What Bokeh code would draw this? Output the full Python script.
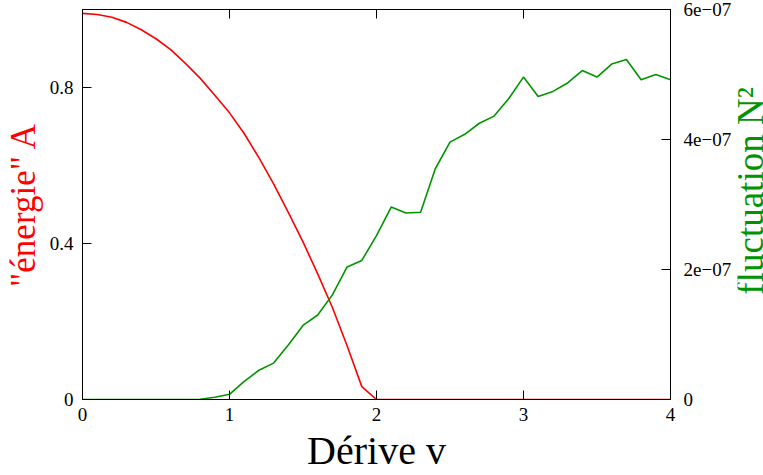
import math

from bokeh.embed import file_html
from bokeh.layouts import row
from bokeh.models import FixedTicker, Label, LinearAxis, Range1d
from bokeh.plotting import figure
from bokeh.resources import INLINE

# drift values v
derive_v = [0.0, 0.1, 0.2, 0.3, 0.4, 0.5, 0.6, 0.7, 0.8, 0.9,
            1.0, 1.1, 1.2, 1.3, 1.4, 1.5, 1.6, 1.7, 1.8, 1.9,
            2.0, 2.1, 2.2, 2.3, 2.4, 2.5, 2.6, 2.7, 2.8, 2.9,
            3.0, 3.1, 3.2, 3.3, 3.4, 3.5, 3.6, 3.7, 3.8, 3.9, 4.0]

# "energy" A (left axis)
energie_A = [0.990, 0.987, 0.980, 0.967, 0.948, 0.925, 0.897, 0.862, 0.824, 0.780,
             0.735, 0.682, 0.620, 0.553, 0.480, 0.404, 0.322, 0.236, 0.138, 0.033,
             0.0, 0.0, 0.0, 0.0, 0.0, 0.0, 0.0, 0.0, 0.0, 0.0,
             0.0, 0.0, 0.0, 0.0, 0.0, 0.0, 0.0, 0.0, 0.0, 0.0, 0.0]

# fluctuation N^2 (right axis)
fluctuation_N2 = [0.0, 0.0, 0.0, 0.0, 0.0, 0.0, 0.0, 0.0, 0.005e-07, 0.035e-07,
                  0.08e-07, 0.28e-07, 0.45e-07, 0.56e-07, 0.84e-07, 1.14e-07, 1.30e-07, 1.61e-07, 2.04e-07, 2.14e-07,
                  2.52e-07, 2.96e-07, 2.87e-07, 2.88e-07, 3.55e-07, 3.96e-07, 4.08e-07, 4.25e-07, 4.36e-07, 4.63e-07,
                  4.96e-07, 4.66e-07, 4.74e-07, 4.87e-07, 5.06e-07, 4.96e-07, 5.16e-07, 5.23e-07, 4.92e-07, 5.00e-07, 4.92e-07]

x_ticks = [0, 1, 2, 3, 4]
y_ticks = [0, 0.4, 0.8]
y2_ticks = [0.0, 2e-07, 4e-07, 6e-07]
y2_tick_labels = ["0", "2e\u221207", "4e\u221207", "6e\u221207"]

FONT = "Liberation Serif"
RED = "#ff0000"
GREEN = "#009400"

p = figure(width=737, height=475, output_backend="svg", toolbar_location=None,
           x_range=Range1d(0, 4), y_range=Range1d(0, 1),
           min_border_left=82, min_border_right=67, min_border_top=9, min_border_bottom=76,
           background_fill_color="white", border_fill_color="white")
p.extra_y_ranges = {"n2": Range1d(0, 6e-07)}
p.grid.visible = False
p.outline_line_color = "black"
p.outline_line_width = 1


def style_axis(ax, size="19px"):
    ax.major_tick_in = 9
    ax.major_tick_out = 0
    ax.minor_tick_in = 0
    ax.minor_tick_out = 0
    ax.axis_line_color = "black"
    ax.major_tick_line_color = "black"
    ax.major_label_text_font = FONT
    ax.major_label_text_font_size = size
    ax.major_label_text_color = "black"
    ax.axis_label_text_font = FONT
    ax.axis_label_text_font_style = "normal"


xa = p.xaxis[0]
xa.ticker = FixedTicker(ticks=x_ticks)
style_axis(xa)
xa.major_label_standoff = 8
xa.axis_label = "Dérive v"
xa.axis_label_text_font_size = "40px"
xa.axis_label_text_color = "black"
xa.axis_label_standoff = 4

ya = p.yaxis[0]
ya.ticker = FixedTicker(ticks=y_ticks)
style_axis(ya)
ya.major_label_standoff = 9
ya.axis_label = '"énergie" A'
ya.axis_label_text_font_size = "35px"
ya.axis_label_text_color = RED
ya.axis_label_standoff = 4

# mirrored ticks along the top edge
top = LinearAxis(ticker=FixedTicker(ticks=x_ticks))
style_axis(top, size="0px")
top.major_label_standoff = 0
top.major_label_text_alpha = 0
p.add_layout(top, "above")

# right axis for N^2
ra = LinearAxis(y_range_name="n2", ticker=FixedTicker(ticks=y2_ticks),
                major_label_overrides=dict(zip(y2_ticks, y2_tick_labels)))
style_axis(ra)
ra.major_label_standoff = 13
p.add_layout(ra, "right")

p.line(derive_v, energie_A, line_color=RED, line_width=1.6)
p.line(derive_v, fluctuation_N2, line_color=GREEN, line_width=1.6, y_range_name="n2")

# narrow strip holding the right-axis title, reading bottom to top
q = figure(width=26, height=475, output_backend="svg", toolbar_location=None,
           x_range=Range1d(0, 26), y_range=Range1d(0, 475),
           x_axis_type=None, y_axis_type=None,
           min_border=0, min_border_left=0, min_border_right=0,
           min_border_top=0, min_border_bottom=0,
           background_fill_color="white", border_fill_color="white")
q.grid.visible = False
q.outline_line_color = None
q.add_layout(Label(x=13, y=254, text="fluctuation N²",
                   angle=math.pi / 2, angle_units="rad",
                   text_font=FONT, text_font_size="37px", text_color=GREEN,
                   text_align="center", text_baseline="alphabetic"))

layout = row(p, q, spacing=0)
open("out.html", "w").write(file_html(layout, INLINE))
